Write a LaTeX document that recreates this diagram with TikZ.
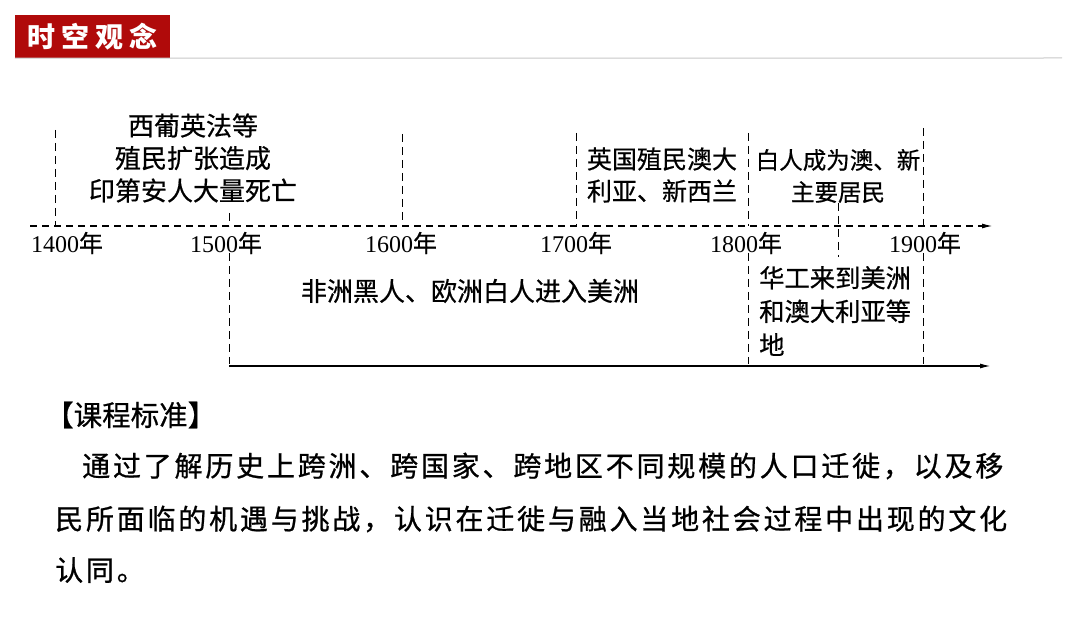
\documentclass[tikz,border=0pt]{standalone}
\usepackage{fontspec}
\setmainfont{Liberation Serif}
\newfontfamily\cjk[FakeBold=0.6]{Noto Sans CJK SC}
\newfontfamily\cjkp[LetterSpace=10,FakeBold=0.8]{Noto Sans CJK SC}
\newfontfamily\cjkh[LetterSpace=22]{Noto Sans CJK SC}
\usetikzlibrary{arrows.meta}
\definecolor{headred}{RGB}{176,10,10}
\newcommand{\yr}[1]{#1{\cjk 年}}

\begin{document}
\begin{tikzpicture}[x=1pt, y=-1pt,
  txt/.style={font=\cjk\fontsize{26}{32.5}\selectfont, align=center, inner sep=0pt},
  yrlbl/.style={font=\fontsize{24}{24}\selectfont, inner sep=0pt},
  para/.style={font=\cjkp\fontsize{28}{52}\selectfont, inner sep=0pt, anchor=west},
  tickline/.style={dash pattern=on 8pt off 5pt, line width=0.9pt},
  axis/.style={line width=1.5pt},
]
\useasboundingbox (0,0) rectangle (1080,620);

% header bar
\node[fill=headred, text=white, minimum width=155, minimum height=43, inner sep=0pt,
      font=\cjkh\bfseries\fontsize{28}{28}\selectfont] (head) at (92.5,36.5) {时空观念};
\coordinate (ruleend) at (1062,58);
\draw[black!22, line width=1pt] (head.south west) -- (ruleend);

% upper time axis
\coordinate (a0) at (30,226);
\coordinate (a1) at (993,226);
\draw[axis, dash pattern=on 7pt off 5pt, -{Latex[length=11pt,width=5pt]}] (a0) -- (a1);

\foreach \yy/\xx/\hi in {1400/55/130, 1500/229/213, 1600/402/134, 1700/576/133, 1800/748/133, 1900/923/128}{
  \coordinate (t\yy) at (\xx,226);
  \coordinate (u\yy) at (\xx,\hi);
  \draw[tickline] (u\yy) -- (t\yy);
}
\foreach \yy/\xx in {1400/67, 1500/226, 1600/401, 1700/576, 1800/746, 1900/925}
  \node[yrlbl] (l\yy) at (\xx,243) {\yr{\yy}};

% mid tick between 1800 and 1900
\coordinate (m0) at (838,203);
\coordinate (m1) at (838,257);
\draw[tickline] (m0) -- (m1);

% lower axis
\foreach \yy/\xx in {1500/229, 1800/748, 1900/923}{
  \coordinate (s\yy) at (\xx,253);
  \coordinate (d\yy) at (\xx,364);
  \draw[tickline] (s\yy) -- (d\yy);
}
\coordinate (b0) at (229,366);
\coordinate (b1) at (991,366);
\draw[axis, -{Latex[length=11pt,width=5pt]}] (b0) -- (b1);

% events
\node[txt] (spain) at (193,158) {西葡英法等\\殖民扩张造成\\印第安人大量死亡};
\node[txt, font=\cjk\fontsize{25}{32}\selectfont] (britain) at (662,175) {英国殖民澳大\\利亚、新西兰};
\node[txt, font=\cjk\fontsize{23.5}{32}\selectfont] (whites) at (838,176) {白人成为澳、新\\主要居民};
\node[txt] (africa) at (470,291) {非洲黑人、欧洲白人进入美洲};
\node[txt, align=left, anchor=west, font=\cjk\fontsize{25.3}{33.5}\selectfont] (chinese) at (759,311) {华工来到美洲\\和澳大利亚等\\地};

% curriculum standard
\node[inner sep=0pt, anchor=west, font=\cjk\fontsize{28.5}{28.5}\selectfont] (stdhead) at (45,415) {【课程标准】};
\node[para] (std1) at (82,466) {通过了解历史上跨洲、跨国家、跨地区不同规模的人口迁徙，以及移};
\node[para] (std2) at (55,519) {民所面临的机遇与挑战，认识在迁徙与融入当地社会过程中出现的文化};
\node[para] (std3) at (55,570) {认同。};
\end{tikzpicture}
\end{document}
